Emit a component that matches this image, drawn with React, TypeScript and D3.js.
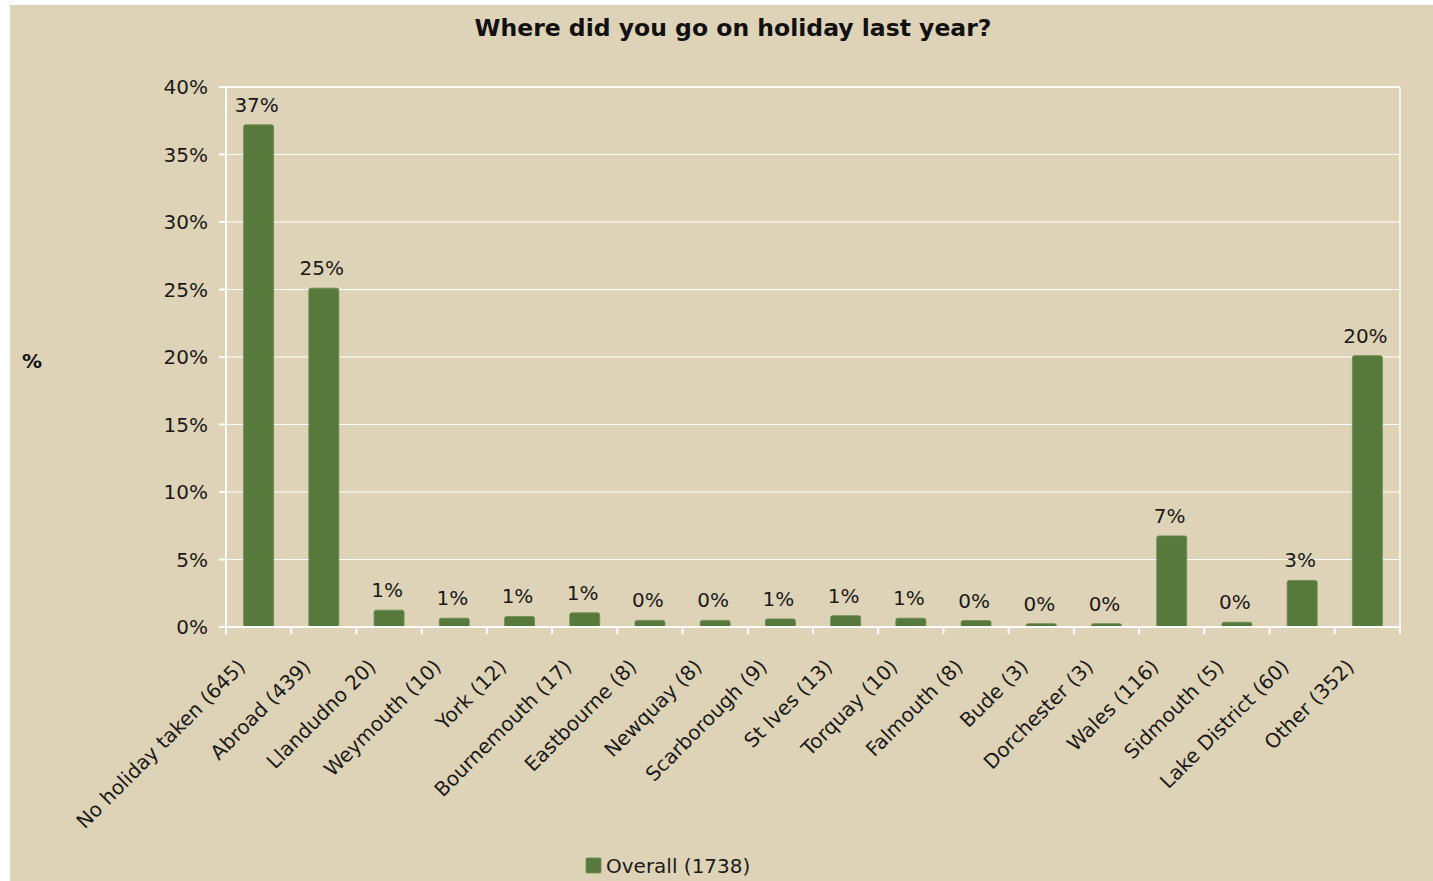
import React from "react";
import * as d3 from "d3";

const categories = [
  "No holiday taken (645)",
  "Abroad (439)",
  "Llandudno 20)",
  "Weymouth (10)",
  "York (12)",
  "Bournemouth (17)",
  "Eastbourne (8)",
  "Newquay (8)",
  "Scarborough (9)",
  "St Ives (13)",
  "Torquay (10)",
  "Falmouth (8)",
  "Bude (3)",
  "Dorchester (3)",
  "Wales (116)",
  "Sidmouth (5)",
  "Lake District (60)",
  "Other (352)",
];
const overall = [
  37.2, 25.1, 1.25, 0.65, 0.78, 1.05, 0.49, 0.49, 0.6, 0.84, 0.65, 0.48, 0.25,
  0.25, 6.75, 0.35, 3.45, 20.1,
];
const yTicks = [0, 5, 10, 15, 20, 25, 30, 35, 40];
const title = "Where did you go on holiday last year?";
const yLabel = "%";
const seriesName = "Overall (1738)";

const W = 1433;
const H = 881;
const M = { left: 226, right: 1400, top: 87, bottom: 627 };
const BG = "#ded3b7";
const BAR = "#577a3c";
const FONT = "'DejaVu Sans', Verdana, sans-serif";

export default function App() {
  const x = d3
    .scaleBand<string>()
    .domain(categories)
    .range([M.left, M.right])
    .paddingInner(0.54)
    .paddingOuter(0.27);
  const y = d3.scaleLinear().domain([0, 40]).range([M.bottom, M.top]);
  const boundaries = d3
    .range(categories.length + 1)
    .map((i) => M.left + ((M.right - M.left) * i) / categories.length);

  return (
    <svg
      width={W}
      height={H}
      style={{ position: "absolute", left: 0, top: 0, fontFamily: FONT }}
    >
      <rect x={0} y={0} width={W} height={H} fill="#ffffff" />
      <rect x={10} y={5} width={W - 10} height={H - 5} fill={BG} />
      <text
        x={733}
        y={36}
        textAnchor="middle"
        fontWeight="bold"
        fontSize={23.5}
        fill="#111"
      >
        {title}
      </text>
      {/* gridlines */}
      {yTicks.map((t) => (
        <line
          key={"g" + t}
          x1={M.left}
          x2={M.right}
          y1={y(t)}
          y2={y(t)}
          stroke="#ffffff"
          strokeWidth={1.2}
        />
      ))}
      <line x1={M.right} x2={M.right} y1={M.top} y2={M.bottom} stroke="#fff" strokeWidth={1.5} />
      <line x1={M.left} x2={M.right} y1={M.top} y2={M.top} stroke="#fff" strokeWidth={1.5} />
      {/* y axis */}
      <line x1={M.left} x2={M.left} y1={M.top} y2={M.bottom} stroke="#fff" strokeWidth={2} />
      {yTicks.map((t) => (
        <g key={"yt" + t}>
          <line x1={M.left - 7} x2={M.left} y1={y(t)} y2={y(t)} stroke="#fff" strokeWidth={2} />
          <text
            x={208}
            y={y(t)}
            dy="0.36em"
            textAnchor="end"
            fontSize={20}
            fill="#1a1a1a"
          >
            {d3.format("d")(t) + "%"}
          </text>
        </g>
      ))}
      {/* bars */}
      {overall.map((v, i) => (
        <rect
          key={"b" + i}
          x={x(categories[i])!}
          y={y(v)}
          width={x.bandwidth()}
          height={M.bottom - y(v)}
          rx={2}
          fill={BAR}
          stroke="#6a8a4f"
          strokeWidth={0.8}
        />
      ))}
      {/* data labels */}
      {overall.map((v, i) => (
        <text
          key={"l" + i}
          x={x(categories[i])! + x.bandwidth() / 2 - 2}
          y={y(v) - 13}
          textAnchor="middle"
          fontSize={20}
          fill="#1a1a1a"
        >
          {d3.format(".0f")(v) + "%"}
        </text>
      ))}
      {/* x axis */}
      <line x1={M.left} x2={M.right} y1={M.bottom} y2={M.bottom} stroke="#fff" strokeWidth={2} />
      {boundaries.map((b, i) => (
        <line key={"xt" + i} x1={b} x2={b} y1={M.bottom} y2={M.bottom + 7} stroke="#fff" strokeWidth={2} />
      ))}
      {categories.map((c) => {
        const cx = x(c)! + x.bandwidth() / 2;
        return (
          <text
            key={"xl" + c}
            transform={`translate(${cx - 17},${M.bottom + 36}) rotate(-45)`}
            textAnchor="end"
            dy="0.35em"
            fontSize={20}
            fill="#1a1a1a"
          >
            {c}
          </text>
        );
      })}
      {/* y label */}
      <text x={32} y={361} dy="0.35em" textAnchor="middle" fontWeight="bold" fontSize={20} fill="#111">
        {yLabel}
      </text>
      {/* legend */}
      <rect x={586} y={858} width={15} height={15} fill={BAR} stroke="#6a8a4f" strokeWidth={0.8} rx={1} />
      <text x={606} y={866} dy="0.36em" fontSize={20} fill="#1a1a1a">
        {seriesName}
      </text>
    </svg>
  );
}
